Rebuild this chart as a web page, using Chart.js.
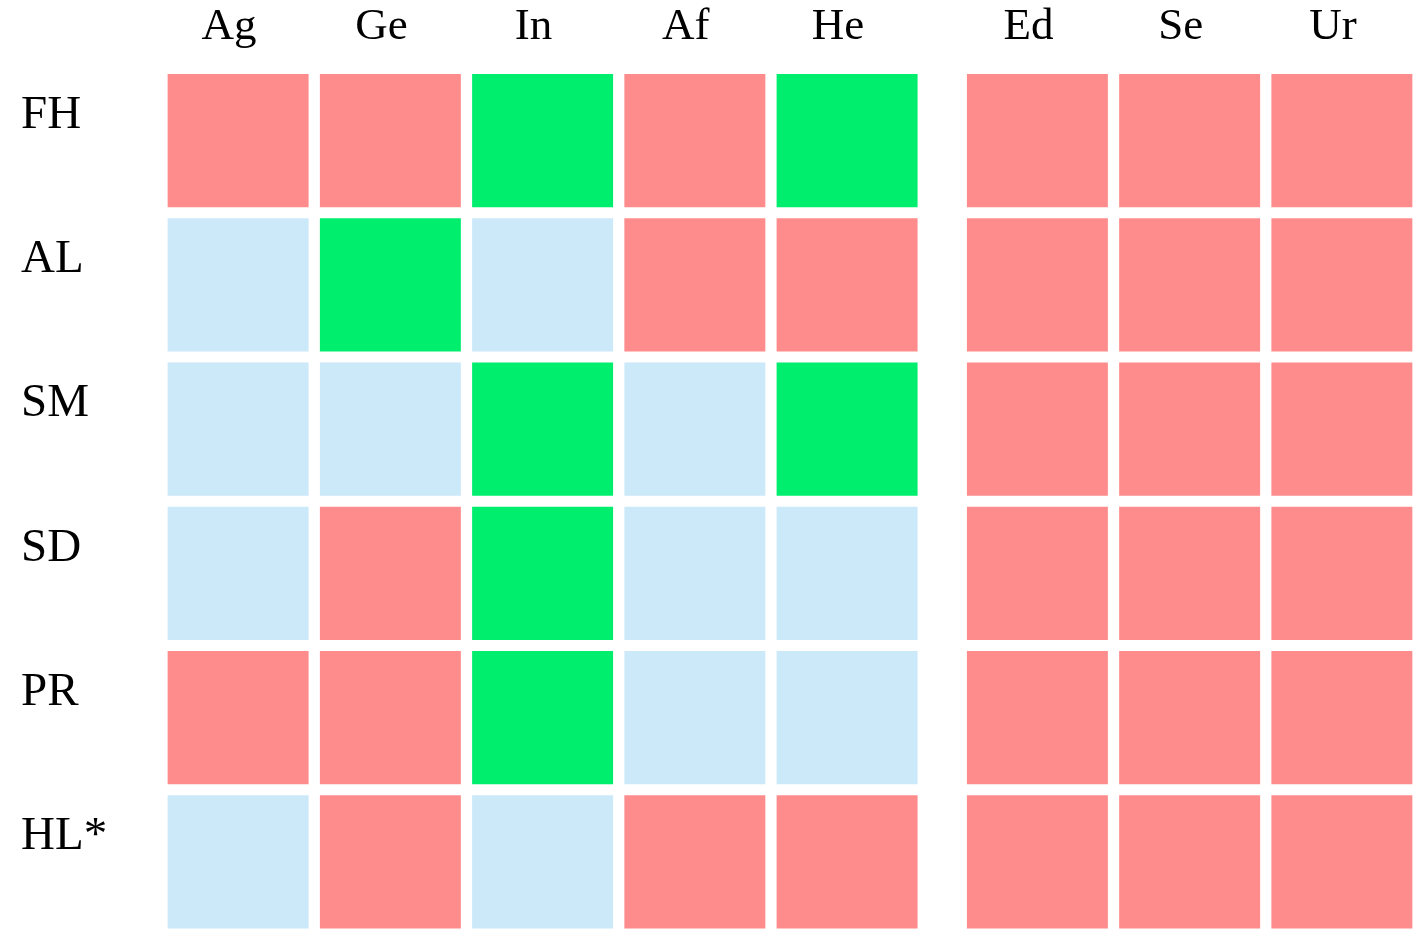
<!DOCTYPE html>
<html>
<head>
<meta charset="utf-8">
<script src="https://cdn.jsdelivr.net/npm/chart.js@4"></script>
<style>
  html, body { margin: 0; padding: 0; background: #fff; overflow: hidden; }
  canvas { display: block; }
</style>
</head>
<body>
<canvas id="grid" width="1418" height="943"></canvas>
<script>
const colLabels = ['Ag', 'Ge', 'In', 'Af', 'He', 'Ed', 'Se', 'Ur'];
const rowLabels = ['FH', 'AL', 'SM', 'SD', 'PR', 'HL*'];

// R = red, G = green, B = blue
const rowFH = ['R', 'R', 'G', 'R', 'G', 'R', 'R', 'R'];
const rowAL = ['B', 'G', 'B', 'R', 'R', 'R', 'R', 'R'];
const rowSM = ['B', 'B', 'G', 'B', 'G', 'R', 'R', 'R'];
const rowSD = ['B', 'R', 'G', 'B', 'B', 'R', 'R', 'R'];
const rowPR = ['R', 'R', 'G', 'B', 'B', 'R', 'R', 'R'];
const rowHL = ['B', 'R', 'B', 'R', 'R', 'R', 'R', 'R'];

const rows = [rowFH, rowAL, rowSM, rowSD, rowPR, rowHL];

const colors = { R: '#ff8c8c', G: '#00ee6e', B: '#cce9fa' };

// second group of columns starts after a small gap
const groupBreak = 5;
const groupGap = 0.25;
const halfCell = 0.463;
const colPos = colLabels.map((_, i) => i + (i >= groupBreak ? groupGap : 0));

const datasets = colLabels.map((name, c) => ({
  label: name,
  data: rows.map(() => [colPos[c] - halfCell, colPos[c] + halfCell]),
  backgroundColor: rows.map(r => colors[r[c]]),
  borderWidth: 0,
  grouped: false,
  categoryPercentage: 1,
  barPercentage: 0.924
}));

const serif = "'Liberation Serif', 'Times New Roman', serif";

new Chart(document.getElementById('grid'), {
  type: 'bar',
  data: { labels: rowLabels, datasets },
  options: {
    indexAxis: 'y',
    responsive: false,
    animation: false,
    devicePixelRatio: 1,
    layout: { padding: { left: 21, right: 0, top: 0, bottom: 9 } },
    plugins: { legend: { display: false }, tooltip: { enabled: false } },
    scales: {
      x: {
        type: 'linear',
        position: 'top',
        min: -0.5,
        max: 7.75,
        grid: { display: false },
        border: { display: false },
        afterBuildTicks: scale => { scale.ticks = colPos.map(v => ({ value: v })); },
        afterFit: scale => {
          scale.height = 68.5;
          scale.paddingLeft = 0;
          scale.paddingRight = 0;
        },
        ticks: {
          autoSkip: false,
          maxRotation: 0,
          padding: 6,
          labelOffset: -9,
          color: '#000',
          font: { family: serif, size: 45 },
          callback: value => colLabels[colPos.indexOf(value)]
        }
      },
      y: {
        type: 'category',
        grid: { display: false },
        border: { display: false },
        afterFit: scale => {
          scale.width = 141;
          scale.paddingTop = 0;
          scale.paddingBottom = 0;
        },
        ticks: {
          crossAlign: 'far',
          labelOffset: -25,
          color: '#000',
          font: { family: serif, size: 47 }
        }
      }
    }
  }
});
</script>
</body>
</html>
